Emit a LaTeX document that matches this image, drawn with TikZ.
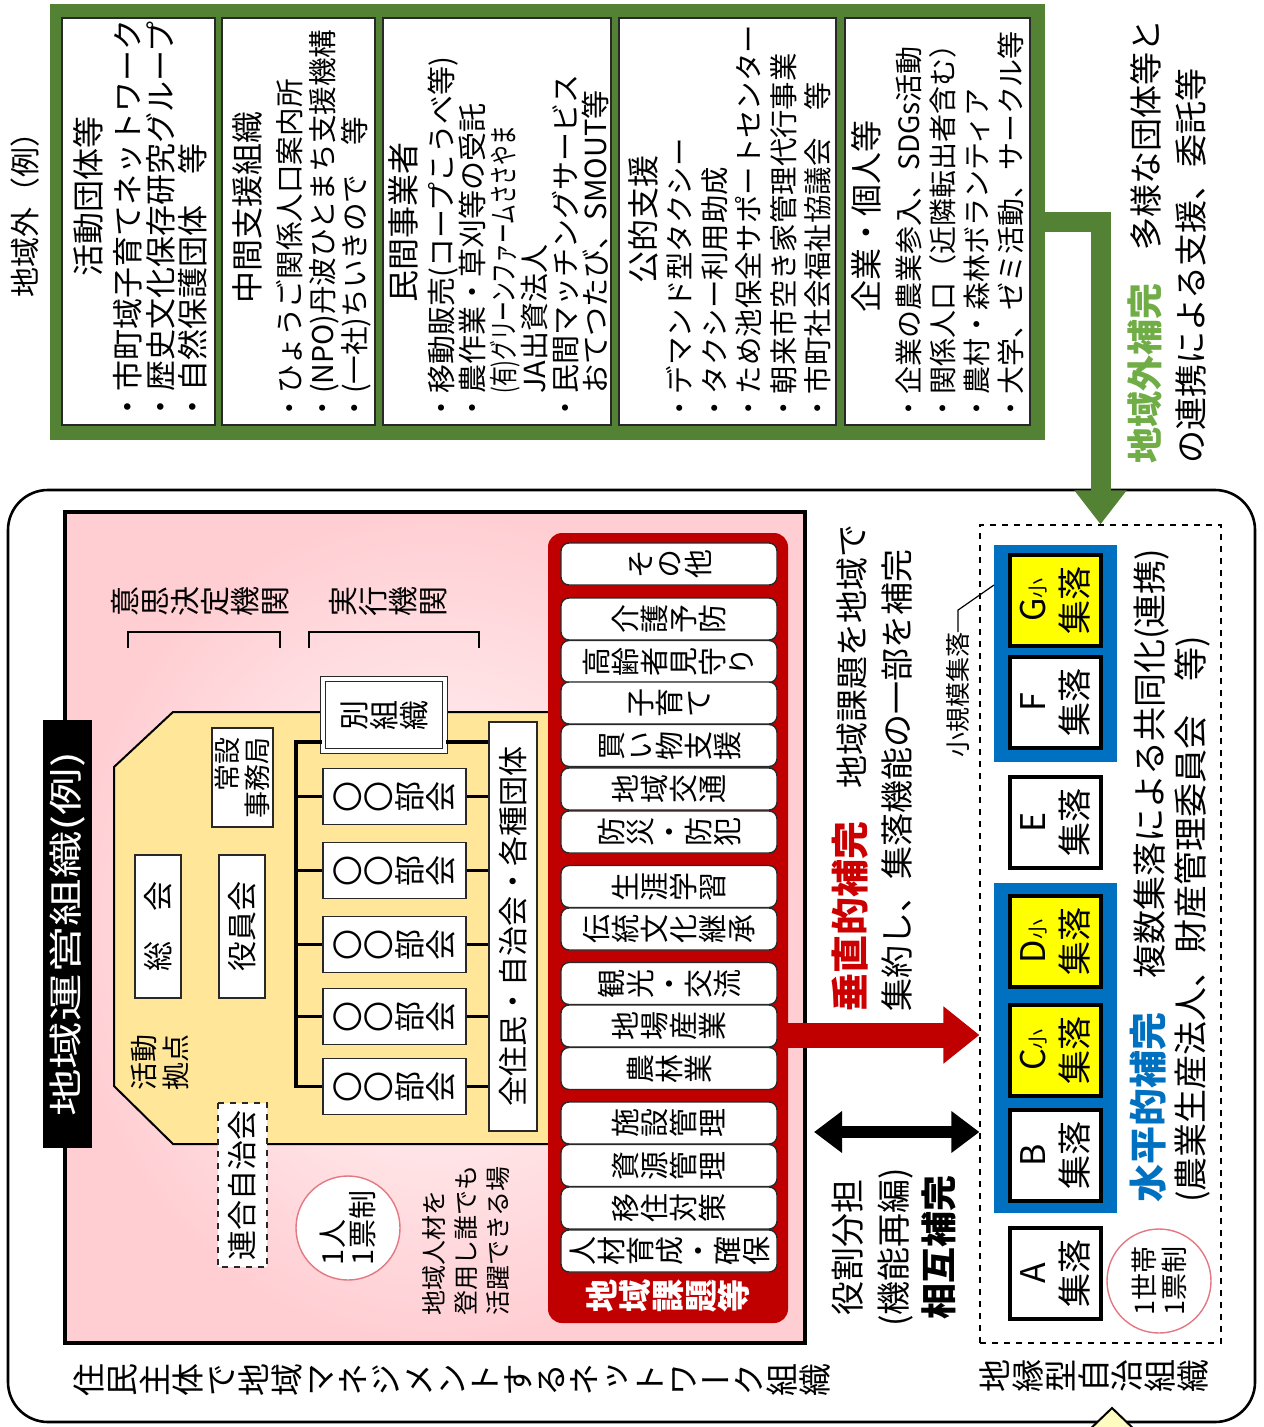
\documentclass[tikz,border=0pt]{standalone}
\usepackage{fontspec}
\usepackage{graphicx}
\setmainfont{Noto Sans CJK JP}
\newfontfamily\tatefont[RawFeature={+vert}]{Noto Sans CJK JP}
\usepackage{tikz}
\usetikzlibrary{arrows.meta}
\definecolor{outgreen}{RGB}{84,130,53}
\definecolor{labelgreen}{RGB}{112,173,71}
\definecolor{issuered}{RGB}{192,0,0}
\definecolor{vertred}{RGB}{204,0,0}
\definecolor{shuraku}{RGB}{0,112,192}
\definecolor{baseyellow}{RGB}{255,230,153}
\definecolor{smallyellow}{RGB}{255,255,0}
\definecolor{pinkedge}{RGB}{255,206,211}
\definecolor{pinkmid}{RGB}{255,253,253}
\definecolor{circlered}{RGB}{228,120,130}
\definecolor{darkline}{RGB}{40,40,40}

% vertical (tategaki) text, drawn turned with the page
\makeatletter
\newcommand\tate[1]{\@tfor\tatechar:=#1\do{\rotatebox{90}{\makebox[1em]{\tatefont\vrule height .88em depth .12em width 0pt\tatechar}}}}
\makeatother
\newcommand\fsz[2]{\fontsize{#1}{#2}\selectfont}

\begin{document}
\begin{tikzpicture}[
    x=0.5pt, y=-0.5pt,
    yoko/.style={rotate=90, inner sep=0pt, align=left},
    colbox/.style={draw=darkline, line width=0.8pt, fill=white},
    issue/.style={draw=darkline, line width=0.7pt, fill=white, rounded corners=4pt,
                  minimum width=108pt, minimum height=21pt, inner sep=0pt, font=\fsz{14.5}{15}},
    village/.style={draw=black, line width=2pt, rotate=90, minimum width=45.5pt,
                    minimum height=45.5pt, inner sep=0pt, align=center, font=\fsz{17}{21}},
    bukai/.style={draw=darkline, line width=0.8pt, fill=white, minimum width=71.5pt,
                  minimum height=28pt, inner sep=0pt, font=\fsz{15.5}{16}},
    whitebox/.style={yoko, draw=darkline, fill=white, line width=0.8pt},
    tree/.style={line width=1.8pt},
    bracket/.style={line width=1pt},
    vote/.style={circle, rotate=90, draw=circlered, line width=0.7pt, fill=white,
                 minimum size=52pt, inner sep=0pt, align=left, font=\fsz{13.5}{15}}
]
\useasboundingbox (0,0) rectangle (1263,1427);
\fill[white] (0,0) rectangle (1263,1427);

% outside the community
\node[yoko, font=\fsz{15}{16}] (outtitle) at (25,208) {地域外（例）};
\node[fill=outgreen, minimum width=497.5pt, minimum height=218pt, inner sep=0pt] (outside) at (547.5,222) {};
\draw[colbox] (62,18) rectangle (215,425);
\draw[colbox] (222,18) rectangle (375,425);
\draw[colbox] (383,18) rectangle (611,425);
\draw[colbox] (619,18) rectangle (836,425);
\draw[colbox] (845,18) rectangle (1030,425);

\node[yoko, font=\fsz{16}{17}] (h1) at (88,197) {活動団体等};
\node[yoko, font=\fsz{16}{17}] (h2) at (247,208) {中間支援組織};
\node[yoko, font=\fsz{16}{17}] (h3) at (403,223) {民間事業者};
\node[yoko, font=\fsz{16}{17}] (h4) at (643,220) {公的支援};
\node[yoko, font=\fsz{16}{17}] (h5) at (866,217) {企業・個人等};

\node[yoko, anchor=north west, font=\fsz{15.5}{16.25}] (l1) at (113,423)
    {・市町域子育てネットワーク\\・歴史文化保存研究グループ\\・自然保護団体　等};
\node[yoko, anchor=north west, font=\fsz{14.3}{16.25}] (l2) at (276,423)
    {・ひょうご関係人口案内所\\・(NPO)丹波ひとまち支援機構\\・(一社)ちいきので　等};
\node[yoko, anchor=north west, font=\fsz{14.5}{15.4}] (l3) at (428,423)
    {・移動販売(コープこうべ等)\\・農作業・草刈等の受託\\　\scalebox{.68}[1]{(有)グリーンファームささやま}\\　JA出資法人\\・民間マッチングサービス\\　おてつたび、SMOUT等};
\node[yoko, anchor=north west, font=\fsz{14.2}{17.25}] (l4) at (666,423)
    {・デマンド型タクシー\\・タクシー利用助成\\・ため池保全サポートセンター\\・朝来市空き家管理代行事業\\・市町社会福祉協議会　等};
\node[yoko, anchor=north west, font=\fsz{14}{17}] (l5) at (895,423)
    {・企業の農業参入、SDGs活動\\・関係人口（近隣転出者含む）\\・農村・森林ボランティア\\・大学、ゼミ活動、サークル等};

\node[yoko, anchor=north west, font=\fsz{16.5}{22.5}] (outlabel) at (1127,464)
    {{\color{labelgreen}\bfseries\fsz{18}{22.5}地域外補完}　多様な団体等と\\の連携による支援、委託等};

% community area
\node[draw, fill=white, line width=1.3pt, rounded corners=20pt, minimum width=623.5pt, minimum height=466pt] (area) at (631.5,956) {};
\node[draw, line width=2pt, inner color=pinkmid, outer color=pinkedge, minimum width=370pt, minimum height=415.5pt] (pinkbox) at (435,927.5) {};
\node[yoko, fill=black, text=white, minimum width=214pt, minimum height=24.5pt, align=center, font=\fsz{17}{18}] (orgtitle) at (67.5,934) {\scalebox{1.4}[1]{地域運営組織(例)}};

\draw[fill=baseyellow, line width=1pt] (114,767) -- (173,712) -- (550,712) -- (550,1144) -- (173,1144) -- (114,1086) -- cycle;

\node[font=\fsz{15}{16}] (decide) at (200,601) {\tate{意思決定機関}};
\draw[bracket] (128,648) -- (128,632) -- (280,632) -- (280,648);
\node[font=\fsz{15}{16}] (execute) at (388,601) {\tate{実行機関}};
\draw[bracket] (309,648) -- (309,632) -- (479,632) -- (479,648);

\node[whitebox, minimum width=49.5pt, minimum height=30.5pt, align=right, font=\fsz{13.5}{15}] (office) at (242.5,777.5) {常設\\事務局};
\node[whitebox, minimum width=71.5pt, minimum height=23pt, font=\fsz{15}{16}] (general) at (158,926.5) {総　会};
\node[whitebox, minimum width=71.5pt, minimum height=23pt, font=\fsz{15}{16}] (board) at (242,926.5) {役員会};
\node[yoko, font=\fsz{14}{16}] (base) at (160,1062) {活動\\拠点};

\node[draw=darkline, double=white, double distance=1.6pt, line width=0.8pt, fill=white, minimum width=61pt, minimum height=36pt, font=\fsz{15}{16}] (betsu) at (384,715) {\tate{別組織}};
\node[bukai] (bk1) at (394.5,796.5) {\tate{〇〇部会}};
\node[bukai] (bk2) at (394.5,870.5) {\tate{〇〇部会}};
\node[bukai] (bk3) at (394.5,944.5) {\tate{〇〇部会}};
\node[bukai] (bk4) at (394.5,1016.5) {\tate{〇〇部会}};
\node[bukai] (bk5) at (394.5,1086.5) {\tate{〇〇部会}};
\node[whitebox, minimum width=204.5pt, minimum height=24pt, align=center, font=\fsz{15}{16}] (all) at (513,926.5) {全住民・自治会・各種団体};

% tree (all is turned, so its left side is all.north)
\coordinate (trunk) at (296,742);
\draw[tree] (betsu.west |- trunk) -- (trunk) |- (bk5.west);
\draw[tree] (bk1.west) -- (bk1.west -| trunk);
\draw[tree] (bk2.west) -- (bk2.west -| trunk);
\draw[tree] (bk3.west) -- (bk3.west -| trunk);
\draw[tree] (bk4.west) -- (bk4.west -| trunk);
\draw[tree] (betsu.east |- trunk) -- (trunk -| all.north);
\draw[tree] (bk1.east) -- (bk1.east -| all.north);
\draw[tree] (bk2.east) -- (bk2.east -| all.north);
\draw[tree] (bk3.east) -- (bk3.east -| all.north);
\draw[tree] (bk4.east) -- (bk4.east -| all.north);
\draw[tree] (bk5.east) -- (bk5.east -| all.north);

\node[whitebox, dashed, minimum width=82pt, minimum height=24.5pt, font=\fsz{15}{16}] (federation) at (242.5,1185) {連合自治会};
\node[vote, font=\fsz{14.5}{15}] (onevote) at (348,1228) {1人\\1票制};
\node[yoko, anchor=north west, font=\fsz{12.5}{16}] (talent) at (422,1316) {地域人材を\\登用し誰でも\\活躍できる場};
\node[font=\fsz{16.5}{17}] (network) at (451.5,1380) {\tate{住民主体で地域マネジメントするネットワーク組織}};

% local issues
\node[fill=issuered, rounded corners=7pt, minimum width=120pt, minimum height=395pt] (issues) at (668,928) {};
\node[issue] (i1) at (669,564) {\tate{その他}};
\node[issue] (i2) at (669,619) {\tate{介護予防}};
\node[issue] (i3) at (669,661.5) {\tate{高齢者見守り}};
\node[issue] (i4) at (669,703) {\tate{子育て}};
\node[issue] (i5) at (669,745.5) {\tate{買い物支援}};
\node[issue] (i6) at (669,789) {\tate{地域交通}};
\node[issue] (i7) at (669,832) {\tate{防災・防犯}};
\node[issue] (i8) at (669,886.5) {\tate{生涯学習}};
\node[issue] (i9) at (669,929) {\tate{伝統文化継承}};
\node[issue] (i10) at (669,983.5) {\tate{観光・交流}};
\node[issue] (i11) at (669,1026) {\tate{地場産業}};
\node[issue] (i12) at (669,1068.5) {\tate{農林業}};
\node[issue] (i13) at (669,1123) {\tate{施設管理}};
\node[issue] (i14) at (669,1165.5) {\tate{資源管理}};
\node[issue] (i15) at (669,1208) {\tate{移住対策}};
\node[issue] (i16) at (669,1251) {\tate{人材育成・確保}};
\node[text=white, font=\bfseries\fsz{16.5}{17}] (issuetitle) at (668,1296) {\tate{地域課題等}};

\node[yoko, anchor=north west, font=\fsz{16.5}{22.5}] (vertical) at (831,1012)
    {{\color{vertred}\bfseries\fsz{19}{22.5}垂直的補完}　地域課題を地域で\\集約し、集落機能の一部を補完};
\node[yoko, align=center, font=\fsz{17}{23}] (role) at (894,1247) {役割分担\\(機能再編)\\{\bfseries\fsz{18}{23}相互補完}};

% settlements
\node[draw, dashed, line width=0.6pt, minimum width=120.5pt, minimum height=409pt] (sites) at (1100.5,934) {};
\node[fill=shuraku, minimum width=61.5pt, minimum height=108.5pt] (blueup) at (1055.5,653.5) {};
\node[fill=shuraku, minimum width=61.5pt, minimum height=165pt] (bluedown) at (1055.5,1048) {};
\node[village, fill=smallyellow] (g) at (1055.5,600) {G{\fsz{10}{10}小}\\集落};
\node[village, fill=white] (f) at (1055.5,702.5) {F\\集落};
\node[village, fill=white] (e) at (1055.5,822.5) {E\\集落};
\node[village, fill=smallyellow] (d) at (1055.5,941.5) {D{\fsz{10}{10}小}\\集落};
\node[village, fill=smallyellow] (c) at (1055.5,1050) {C{\fsz{10}{10}小}\\集落};
\node[village, fill=white] (b) at (1055.5,1155) {B\\集落};
\node[village, fill=white] (a) at (1055.5,1273.5) {A\\集落};

\node[yoko, font=\fsz{12.5}{13}] (smalllabel) at (958,695) {小規模集落};
\coordinate (leadend) at (994,585);
\draw[line width=0.6pt] (smalllabel.east) -- ++(0,-22) -- (leadend);

\node[yoko, anchor=north west, font=\fsz{17}{20.5}] (horizontal) at (1130,1203)
    {{\color{shuraku}\bfseries\fsz{19}{20.5}水平的補完}　複数集落による共同化(連携)\\(農業生産法人、財産管理委員会　等)};
\node[vote] (hhvote) at (1159,1281) {1世帯\\1票制};
\node[font=\fsz{16.5}{17}] (chien) at (1094,1376) {\tate{地縁型自治組織}};

% arrows
\draw[outgreen, line width=10pt, -{Triangle[width=25pt,length=17pt]}] (outside.east) -| (sites.north);
\coordinate (redy) at (0,1035);
\draw[issuered, line width=12.5pt, -{Triangle[width=27.5pt,length=18pt]}] (issues.east |- redy) -- (sites.west |- redy);
\coordinate (blacky) at (0,1132);
\draw[line width=6pt, {Triangle[width=20pt,length=14pt]}-{Triangle[width=20pt,length=14pt]}] ([xshift=3.5pt]pinkbox.east |- blacky) -- (sites.west |- blacky);

% edge of the next part
\draw[fill=yellow!25, line width=1pt] (1087,1432) -- (1112,1408) -- (1137,1432);
\end{tikzpicture}
\end{document}
